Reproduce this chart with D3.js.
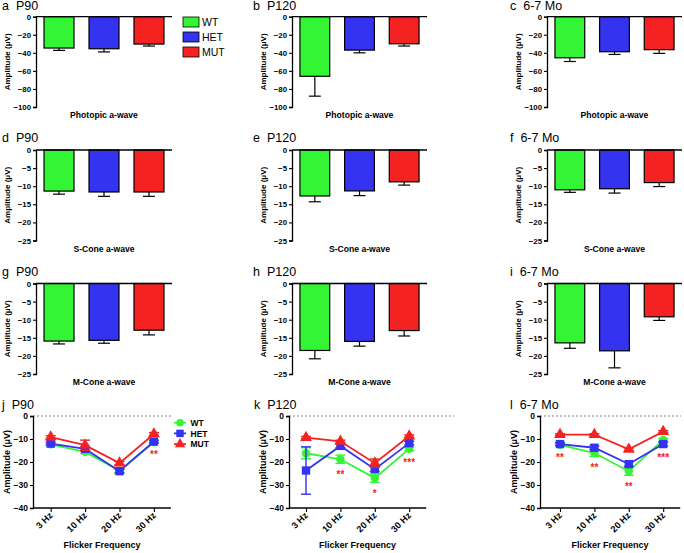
<!DOCTYPE html>
<html><head><meta charset="utf-8">
<script src="https://cdn.jsdelivr.net/npm/d3@7"></script>
<style>
body{margin:0;background:#fff}
svg{display:block}
text{font-family:"Liberation Sans",Arial,Helvetica,sans-serif}
.title{white-space:pre}
</style>
</head><body>
<svg id="chart" width="684" height="553"></svg>
<script>
// ---------------- DATA ----------------
const groups = ["WT", "HET", "MUT"];
const groupColors = ["#33F533", "#3333F0", "#F52222"];

const barTitles = ["a  P90", "b  P120", "c  6-7 Mo", "d  P90", "e  P120", "f  6-7 Mo", "g  P90", "h  P120", "i  6-7 Mo"];
const barXLabels = ["Photopic a-wave", "S-Cone a-wave", "M-Cone a-wave"];
const photopicTicks = [0, -20, -40, -60, -80, -100];
const coneTicks = [0, -5, -10, -15, -20, -25];

const photopicP90 = [-34.7, -35.5, -30.3];
const photopicP90Err = [2.6, 3.5, 2.2];
const photopicP120 = [-66.0, -37.0, -30.0];
const photopicP120Err = [22.0, 3.0, 2.5];
const photopic67 = [-45.5, -38.8, -36.5];
const photopic67Err = [4.1, 3.0, 4.1];

const sConeP90 = [-11.35, -11.6, -11.6];
const sConeP90Err = [0.85, 1.2, 1.2];
const sConeP120 = [-12.7, -11.3, -8.8];
const sConeP120Err = [1.6, 1.3, 0.9];
const sCone67 = [-11.0, -10.7, -9.0];
const sCone67Err = [0.7, 1.2, 1.1];

const mConeP90 = [-15.9, -15.7, -12.9];
const mConeP90Err = [0.8, 0.8, 1.3];
const mConeP120 = [-18.5, -16.0, -13.0];
const mConeP120Err = [2.3, 1.3, 1.5];
const mCone67 = [-16.4, -18.6, -9.2];
const mCone67Err = [1.5, 4.7, 1.0];

const flickerFreqs = ["3 Hz", "10 Hz", "20 Hz", "30 Hz"];
const flickerTitles = ["j  P90", "k  P120", "l  6-7 Mo"];
const flickerTicks = [0, -10, -20, -30, -40];

const flickerP90WT = [-12.3, -15.6, -23.8, -11.4];
const flickerP90WTErr = [0.5, 0.8, 0.8, 0.5];
const flickerP90HET = [-12.0, -14.3, -24.0, -11.1];
const flickerP90HETErr = [0.6, 0.8, 0.8, 0.6];
const flickerP90MUT = [-9.2, -12.7, -20.5, -7.8];
const flickerP90MUTErr = [0.6, 2.2, 0.7, 0.6];

const flickerP120WT = [-16.2, -18.8, -27.0, -14.3];
const flickerP120WTErr = [2.4, 1.8, 1.8, 0.8];
const flickerP120HET = [-23.7, -13.0, -23.1, -11.8];
const flickerP120HETErr = [10.3, 0.8, 1.0, 0.8];
const flickerP120MUT = [-9.4, -11.0, -20.5, -8.7];
const flickerP120MUTErr = [0.5, 0.5, 1.8, 0.5];

const flicker67WT = [-12.5, -16.1, -24.0, -10.4];
const flicker67WTErr = [0.6, 1.5, 1.8, 0.6];
const flicker67HET = [-12.2, -13.8, -20.9, -12.2];
const flicker67HETErr = [0.6, 0.8, 1.0, 0.8];
const flicker67MUT = [-8.1, -8.1, -14.5, -6.8];
const flicker67MUTErr = [0.4, 0.4, 0.5, 0.4];

const flickerP90Stars = ["", "", "", "**"];
const flickerP120Stars = ["", "**", "*", "***"];
const flicker67Stars = ["**", "**", "**", "***"];

// ---------------- LAYOUT ----------------
const svg = d3.select("#chart");
const FONT = '"Liberation Sans",Arial,Helvetica,sans-serif';

const colAxisX = [36, 292, 547];
const colW = [136, 135, 135];
const titleX = [2, 253, 510];
const rowZeroY = [16.7, 150, 283.5];
const rowBottomY = [107, 240.5, 374];
const rowTitleY = [9.5, 141.5, 276];

const barMeans = [photopicP90, photopicP120, photopic67, sConeP90, sConeP120, sCone67, mConeP90, mConeP120, mCone67];
const barErrs = [photopicP90Err, photopicP120Err, photopic67Err, sConeP90Err, sConeP120Err, sCone67Err, mConeP90Err, mConeP120Err, mCone67Err];

function styleAxis(g, size) {
  g.attr("font-family", null).attr("font-size", null);
  g.select(".domain").attr("stroke", "#000").attr("stroke-width", 1.3);
  g.selectAll(".tick line").attr("stroke", "#000").attr("stroke-width", 1.1);
  g.selectAll(".tick text").attr("fill", "#000").style("font-family", FONT)
    .style("font-size", size + "px").style("font-weight", "bold");
}

barMeans.forEach((means, i) => {
  const r = Math.floor(i / 3), c = i % 3;
  const ax = colAxisX[c], W = colW[c];
  const ticks = r === 0 ? photopicTicks : coneTicks;
  const y = d3.scaleLinear().domain([d3.min(ticks), 0]).range([rowBottomY[r], rowZeroY[r]]);
  const x = d3.scaleBand().domain(groups).range([ax, ax + W]).paddingInner(0.333).paddingOuter(0.178);
  const g = svg.append("g");

  g.selectAll("rect.bar").data(means).join("rect")
    .attr("x", (d, k) => x(groups[k]))
    .attr("width", x.bandwidth())
    .attr("y", y(0))
    .attr("height", d => y(d) - y(0))
    .attr("fill", (d, k) => groupColors[k])
    .attr("stroke", "#000").attr("stroke-width", 1.2);

  const errs = barErrs[i];
  means.forEach((m, k) => {
    const cx = x(groups[k]) + x.bandwidth() / 2;
    g.append("line").attr("x1", cx).attr("x2", cx).attr("y1", y(m)).attr("y2", y(m - errs[k]))
      .attr("stroke", "#000").attr("stroke-width", 1.2);
    g.append("line").attr("x1", cx - 6).attr("x2", cx + 6).attr("y1", y(m - errs[k])).attr("y2", y(m - errs[k]))
      .attr("stroke", "#000").attr("stroke-width", 1.2);
  });

  const ya = g.append("g").attr("transform", `translate(${ax},0)`)
    .call(d3.axisLeft(y).tickValues(ticks).tickSize(3).tickPadding(2).tickFormat(d3.format("d")));
  styleAxis(ya, 7.8);
  g.append("line").attr("x1", ax).attr("x2", ax + W).attr("y1", y(0)).attr("y2", y(0))
    .attr("stroke", "#000").attr("stroke-width", 1.3);

  g.append("text").attr("class", "title").attr("x", titleX[c]).attr("y", rowTitleY[r])
    .style("font-size", "12.5px").attr("fill", "#000").text(barTitles[i]);
  g.append("text").attr("transform", `translate(${ax - 26},${(rowZeroY[r] + rowBottomY[r]) / 2}) rotate(-90)`)
    .attr("text-anchor", "middle").style("font-size", "8px").style("font-weight", "bold")
    .text("Amplitude (\u03BCV)");
  g.append("text").attr("x", ax + W / 2).attr("y", rowBottomY[r] + 11)
    .attr("text-anchor", "middle").style("font-size", "8.6px").style("font-weight", "bold")
    .text(barXLabels[r]);
});

groups.forEach((gname, k) => {
  const ly = 17 + k * 15;
  svg.append("rect").attr("x", 183).attr("y", ly).attr("width", 16).attr("height", 10)
    .attr("fill", groupColors[k]).attr("stroke", "#000").attr("stroke-width", 0.8);
  svg.append("text").attr("x", 202).attr("y", ly + 9).style("font-size", "10.5px").text(gname);
});

// ---------------- FLICKER ROW ----------------
const flAxisX = [33, 289, 540];
const flFirst = [50.7, 306, 560];
const flDashEnd = [172, 454, 681];
const flTitleX = [2, 254, 510];
const flZeroY = 416, flBottomY = 508;
const flSpacing = 34.4;

const flMeans = [
  [flickerP90WT, flickerP90HET, flickerP90MUT],
  [flickerP120WT, flickerP120HET, flickerP120MUT],
  [flicker67WT, flicker67HET, flicker67MUT]];
const flErrs = [
  [flickerP90WTErr, flickerP90HETErr, flickerP90MUTErr],
  [flickerP120WTErr, flickerP120HETErr, flickerP120MUTErr],
  [flicker67WTErr, flicker67HETErr, flicker67MUTErr]];
const flStars = [flickerP90Stars, flickerP120Stars, flicker67Stars];

const symbols = [d3.symbolCircle, d3.symbolSquare, d3.symbolTriangle];
const symSizes = [55, 70, 60];

flMeans.forEach((series, c) => {
  const ax = flAxisX[c];
  const y = d3.scaleLinear().domain([-40, 0]).range([flBottomY, flZeroY]);
  const x = d3.scalePoint().domain(flickerFreqs).range([flFirst[c], flFirst[c] + 3 * flSpacing]);
  const g = svg.append("g");

  g.append("line").attr("x1", ax).attr("x2", flDashEnd[c]).attr("y1", y(0)).attr("y2", y(0))
    .attr("stroke", "#666").attr("stroke-width", 0.8).attr("stroke-dasharray", "2,2");

  series.forEach((vals, k) => {
    const col = groupColors[k];
    const errs = flErrs[c][k];
    const line = d3.line().x((d, j) => x(flickerFreqs[j])).y(d => y(d));
    g.append("path").datum(vals).attr("d", line).attr("fill", "none")
      .attr("stroke", col).attr("stroke-width", 1.8);
    vals.forEach((v, j) => {
      const cx = x(flickerFreqs[j]);
      g.append("line").attr("x1", cx).attr("x2", cx).attr("y1", y(v + errs[j])).attr("y2", y(v - errs[j]))
        .attr("stroke", col).attr("stroke-width", 1.4);
      [v + errs[j], v - errs[j]].forEach(e => {
        g.append("line").attr("x1", cx - 5).attr("x2", cx + 5).attr("y1", y(e)).attr("y2", y(e))
          .attr("stroke", col).attr("stroke-width", 1.4);
      });
    });
    g.selectAll(null).data(vals).join("path")
      .attr("transform", (d, j) => `translate(${x(flickerFreqs[j])},${y(d)})`)
      .attr("d", d3.symbol().type(symbols[k]).size(symSizes[k]))
      .attr("fill", col);
  });

  flStars[c].forEach((s, j) => {
    if (!s) return;
    const lows = series.map((vals, k) => vals[j] - flErrs[c][k][j]);
    const yy = y(d3.min(lows)) + 15;
    g.append("text").attr("x", x(flickerFreqs[j])).attr("y", yy)
      .attr("text-anchor", "middle").style("font-size", "10px").style("font-weight", "bold")
      .attr("fill", "#F52222").text(s);
  });

  const ya = g.append("g").attr("transform", `translate(${ax},0)`)
    .call(d3.axisLeft(y).tickValues(flickerTicks).tickSize(3).tickPadding(2).tickFormat(d3.format("d")));
  styleAxis(ya, 8.5);
  const xa = g.append("g").attr("transform", `translate(0,${flBottomY})`)
    .call(d3.axisBottom(x).tickSize(4).tickSizeOuter(0));
  xa.select(".domain").attr("d", `M${ax},0H${flFirst[c] + 3 * flSpacing + 17}`);
  styleAxis(xa, 9.2);
  xa.selectAll(".tick text").attr("text-anchor", "end").attr("dy", null).attr("y", null)
    .attr("transform", "translate(2,8) rotate(-45)");

  g.append("text").attr("class", "title").attr("x", flTitleX[c]).attr("y", 409)
    .style("font-size", "12.5px").text(flickerTitles[c]);
  g.append("text").attr("transform", `translate(${ax - 23},${(flZeroY + flBottomY) / 2}) rotate(-90)`)
    .attr("text-anchor", "middle").style("font-size", "9px").style("font-weight", "bold")
    .text("Amplitude (\u03BCV)");
  g.append("text").attr("x", (ax + flFirst[c] + 3 * flSpacing + 17) / 2).attr("y", 548)
    .attr("text-anchor", "middle").style("font-size", "9px").style("font-weight", "bold")
    .text("Flicker Frequency");
});

groups.forEach((gname, k) => {
  const ly = 422.7 + k * 10.7;
  svg.append("line").attr("x1", 174).attr("x2", 186).attr("y1", ly).attr("y2", ly)
    .attr("stroke", groupColors[k]).attr("stroke-width", 1.8);
  svg.append("path").attr("transform", `translate(180,${ly})`)
    .attr("d", d3.symbol().type(symbols[k]).size(symSizes[k] * 0.8)).attr("fill", groupColors[k]);
  svg.append("text").attr("x", 190.5).attr("y", ly + 3.2).style("font-size", "8.5px")
    .style("font-weight", "bold").text(gname);
});
</script>
</body></html>
